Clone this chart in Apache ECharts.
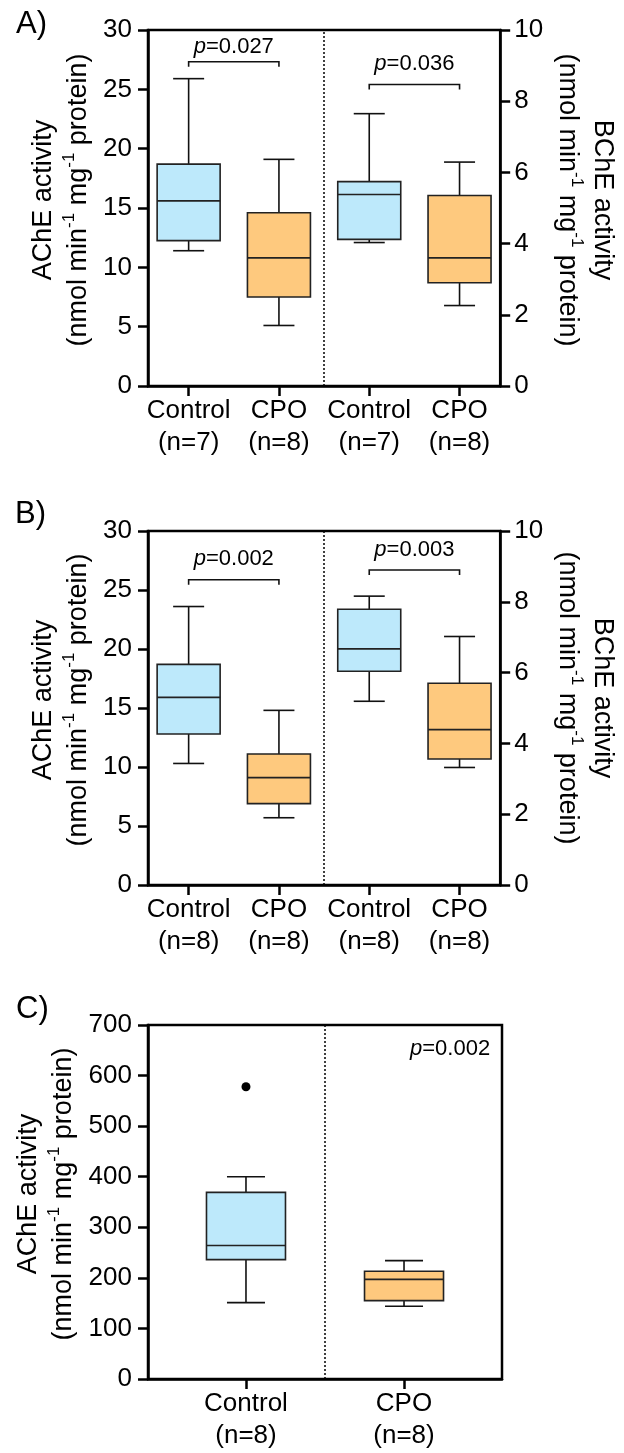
<!DOCTYPE html>
<html>
<head>
<meta charset="utf-8">
<script src="https://cdn.jsdelivr.net/npm/echarts@6.0.0/dist/echarts.min.js"></script>
<style>
  html, body { margin: 0; padding: 0; background: #fff; }
  #chart { width: 624px; height: 1453px; }
</style>
</head>
<body>
<div id="chart"></div>
<script>
// groups on the x axis
const groupsAB = ['Control', 'CPO', 'Control', 'CPO'];
const nA = [7, 8, 7, 8];
const nB = [8, 8, 8, 8];
const groupsC = ['Control', 'CPO'];
const nC = [8, 8];
const posAB = [1, 2, 3, 4];
const posC = [1, 2];

// box stats: [min, q1, median, q3, max]
const aAChE = [[11.4, 12.25, 15.6, 18.7, 25.9], [5.1, 7.5, 10.8, 14.6, 19.1]];
const aBChE = [[4.03, 4.12, 5.38, 5.74, 7.65], [2.26, 2.9, 3.6, 5.35, 6.29]];
const bAChE = [[10.3, 12.8, 15.9, 18.7, 23.6], [5.7, 6.9, 9.1, 11.1, 14.8]];
const bBChE = [[5.19, 6.04, 6.67, 7.79, 8.16], [3.32, 3.56, 4.39, 5.7, 7.02]];
const cAChE = [[151, 236, 264, 369, 400], [144, 155, 197, 213, 234]];
const cOutliers = [[1, 578]];

// p values: [x1, x2, bracket y, text y, p]
const pA = [[1, 2, 27.33, 28.6, '0.027'], [3, 4, 8.47, 9.06, '0.036']];
const pB = [[1, 2, 25.87, 27.6, '0.002'], [3, 4, 8.9, 9.46, '0.003']];
const pC = [[2.545, 652, '0.002']];

const FONT = "'Liberation Sans', Arial, sans-serif";
const COLORS = { Control: '#bde9fb', CPO: '#fec97e' };

const chart = echarts.init(document.getElementById('chart'));

function titleName(main) {
  return '{t|' + main + '}\n{t|(nmol min}{s|-1}{t| mg}{s|-1}{t| protein)}';
}
const titleStyle = (pad) => ({
  fontFamily: FONT, color: '#000', padding: pad,
  rich: {
    t: { fontFamily: FONT, fontSize: 27, lineHeight: 35, color: '#000' },
    s: { fontFamily: FONT, fontSize: 17, lineHeight: 20, verticalAlign: 'top', color: '#000' }
  }
});

function xAxisFor(grid, min, max, pos, groups, ns) {
  return {
    gridIndex: grid, type: 'value', min: min, max: max,
    splitLine: { show: false },
    axisLine: { show: true, onZero: false, lineStyle: { color: '#000', width: 2.5 } },
    axisTick: { show: true, customValues: pos, length: 10, lineStyle: { color: '#000', width: 2.5 } },
    axisLabel: {
      show: true, customValues: pos, margin: 9,
      fontFamily: FONT, fontSize: 26, lineHeight: 32, color: '#000',
      formatter: (v) => {
        const i = pos.indexOf(Math.round(v));
        return groups[i] + '\n(n=' + ns[i] + ')';
      }
    }
  };
}

function yAxisFor(grid, side, max, interval, name, gap, pad) {
  return {
    gridIndex: grid, type: 'value', position: side, min: 0, max: max, interval: interval,
    splitLine: { show: false },
    axisLine: { show: true, onZero: false, lineStyle: { color: '#000', width: 2.5 } },
    axisTick: { show: true, length: 10, lineStyle: { color: '#000', width: 2.5 } },
    axisLabel: { margin: side === 'left' ? 16 : 14, fontFamily: FONT, fontSize: 26, color: '#000' },
    name: titleName(name),
    nameLocation: 'middle',
    nameRotate: side === 'left' ? 90 : -90,
    nameGap: gap,
    nameTextStyle: titleStyle(pad)
  };
}

function boxSeries(xi, yi, stats, pos, groups, boxW, capW, sep) {
  const s = {
    type: 'custom', xAxisIndex: xi, yAxisIndex: yi, clip: false, silent: true,
    data: stats.map((st, i) => [pos[i]].concat(st).concat([groups[i] === 'Control' ? 0 : 1])),
    renderItem: (params, api) => {
      const x = api.value(0);
      const p = (v) => api.coord([x, v]);
      const lo = p(api.value(1)), q1 = p(api.value(2)), md = p(api.value(3));
      const q3 = p(api.value(4)), hi = p(api.value(5));
      const cx = lo[0];
      const fill = api.value(6) === 0 ? COLORS.Control : COLORS.CPO;
      const ln = { stroke: '#111', lineWidth: 1.6 };
      return {
        type: 'group',
        children: [
          { type: 'line', shape: { x1: cx, y1: hi[1], x2: cx, y2: q3[1] }, style: ln },
          { type: 'line', shape: { x1: cx, y1: q1[1], x2: cx, y2: lo[1] }, style: ln },
          { type: 'line', shape: { x1: cx - capW / 2, y1: hi[1], x2: cx + capW / 2, y2: hi[1] }, style: ln },
          { type: 'line', shape: { x1: cx - capW / 2, y1: lo[1], x2: cx + capW / 2, y2: lo[1] }, style: ln },
          { type: 'rect', shape: { x: cx - boxW / 2, y: q3[1], width: boxW, height: q1[1] - q3[1] },
            style: { fill: fill, stroke: '#222', lineWidth: 1.6 } },
          { type: 'line', shape: { x1: cx - boxW / 2, y1: md[1], x2: cx + boxW / 2, y2: md[1] }, style: { stroke: '#222', lineWidth: 1.6 } }
        ]
      };
    }
  };
  if (sep != null) {
    s.markLine = {
      silent: true, symbol: 'none', animation: false,
      label: { show: false },
      lineStyle: { type: [2, 2], color: '#000', width: 1.5 },
      data: [{ xAxis: sep }]
    };
  }
  return s;
}

const pRich = {
  i: { fontFamily: FONT, fontSize: 22, fontStyle: 'italic', fill: '#000' },
  n: { fontFamily: FONT, fontSize: 22, fill: '#000' }
};

function bracketSeries(xi, yi, items) {
  return {
    type: 'custom', xAxisIndex: xi, yAxisIndex: yi, clip: false, silent: true,
    data: items,
    renderItem: (params, api) => {
      const a = api.coord([api.value(0), api.value(2)]);
      const b = api.coord([api.value(1), api.value(2)]);
      const t = api.coord([(api.value(0) + api.value(1)) / 2, api.value(3)]);
      return {
        type: 'group',
        children: [
          { type: 'polyline', shape: { points: [[a[0], a[1] + 5], a, b, [b[0], b[1] + 5]] },
            style: { stroke: '#111', lineWidth: 1.6, fill: null } },
          { type: 'text', x: t[0], y: t[1],
            style: { text: '{i|p}{n|=' + items[params.dataIndex][4] + '}', rich: pRich,
              align: 'center', verticalAlign: 'middle', fill: '#000' } }
        ]
      };
    }
  };
}

function pTextSeries(xi, yi, items) {
  return {
    type: 'custom', xAxisIndex: xi, yAxisIndex: yi, clip: false, silent: true,
    data: items,
    renderItem: (params, api) => {
      const t = api.coord([api.value(0), api.value(1)]);
      return {
        type: 'text', x: t[0], y: t[1],
        style: { text: '{i|p}{n|=' + items[params.dataIndex][2] + '}', rich: pRich,
          align: 'right', verticalAlign: 'middle', fill: '#000' }
      };
    }
  };
}

const gridBase = { show: true, borderColor: '#000', borderWidth: 2.5, backgroundColor: 'transparent' };

const option = {
  animation: false,
  backgroundColor: '#fff',
  textStyle: { fontFamily: FONT },
  title: [
    { text: 'A)', left: 11, top: 4, textStyle: { fontFamily: FONT, fontSize: 31, fontWeight: 'normal', color: '#000' } },
    { text: 'B)', left: 10, top: 494, textStyle: { fontFamily: FONT, fontSize: 31, fontWeight: 'normal', color: '#000' } },
    { text: 'C)', left: 11, top: 989, textStyle: { fontFamily: FONT, fontSize: 31, fontWeight: 'normal', color: '#000' } }
  ],
  grid: [
    Object.assign({ left: 148, top: 30, width: 357, height: 356 }, gridBase),
    Object.assign({ left: 148, top: 531, width: 354, height: 354 }, gridBase),
    Object.assign({ left: 148, top: 1025, width: 354, height: 354 }, gridBase)
  ],
  xAxis: [
    xAxisFor(0, 0.55, 4.45, posAB, groupsAB, nA),
    xAxisFor(1, 0.55, 4.45, posAB, groupsAB, nB),
    xAxisFor(2, 0.38, 2.62, posC, groupsC, nC)
  ],
  yAxis: [
    yAxisFor(0, 'left', 30, 5, 'AChE activity', 52, [0, 0, 0, 16]),
    yAxisFor(0, 'right', 10, 2, 'BChE activity', 44, [0, 16, 0, 0]),
    yAxisFor(1, 'left', 30, 5, 'AChE activity', 49, [0, 0, 0, 16]),
    yAxisFor(1, 'right', 10, 2, 'BChE activity', 35, [0, 20, 0, 0]),
    yAxisFor(2, 'left', 700, 100, 'AChE activity', 67, [0, 0, 0, 16])
  ],
  series: [
    boxSeries(0, 0, aAChE, posAB.slice(0, 2), groupsAB.slice(0, 2), 63, 31, 2.5),
    boxSeries(0, 1, aBChE, posAB.slice(2), groupsAB.slice(2), 63, 31),
    bracketSeries(0, 0, [pA[0]]),
    bracketSeries(0, 1, [pA[1]]),
    boxSeries(1, 2, bAChE, posAB.slice(0, 2), groupsAB.slice(0, 2), 63, 31, 2.5),
    boxSeries(1, 3, bBChE, posAB.slice(2), groupsAB.slice(2), 63, 31),
    bracketSeries(1, 2, [pB[0]]),
    bracketSeries(1, 3, [pB[1]]),
    boxSeries(2, 4, cAChE, posC, groupsC, 79, 38, 1.5),
    {
      type: 'scatter', xAxisIndex: 2, yAxisIndex: 4, silent: true,
      symbol: 'circle', symbolSize: 9, itemStyle: { color: '#000', opacity: 1 },
      data: cOutliers
    },
    pTextSeries(2, 4, pC)
  ]
};

chart.setOption(option);
</script>
</body>
</html>
